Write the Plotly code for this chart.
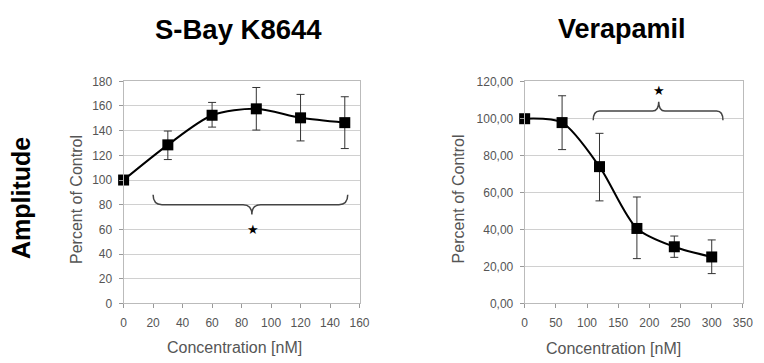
import plotly.graph_objects as go

# ---- data ----
sbay_conc = [0, 30, 60, 90, 120, 150]
sbay_mean = [100, 128.5, 152.5, 157.7, 150.4, 146.5]
sbay_upper = [100, 139.7, 162.9, 175.0, 169.4, 167.5]
sbay_lower = [100, 116.6, 142.9, 140.5, 131.7, 125.5]

vera_conc = [0, 60, 120, 180, 240, 300]
vera_mean = [99.8, 97.7, 73.9, 40.5, 30.6, 25.1]
vera_upper = [99.8, 112.2, 91.9, 57.5, 36.4, 34.3]
vera_lower = [99.8, 83.1, 55.4, 24.2, 24.9, 16.1]

left_xticks = list(range(0, 161, 20))
left_yticks = list(range(0, 181, 20))
right_xticks = list(range(0, 351, 50))
right_yticks = list(range(0, 121, 20))

W, H = 764, 363
FONT = "Liberation Sans, Arial, sans-serif"
GRAY = "#555555"

def px_x(p):
    return p / W

def px_y(p):
    return 1 - p / H

fig = go.Figure()

def add_series(x, m, up, lo, xa, ya):
    fig.add_trace(go.Scatter(
        x=x, y=m, xaxis=xa, yaxis=ya, mode="lines+markers",
        line=dict(color="black", width=2, shape="spline", smoothing=0.8),
        marker=dict(symbol="square", size=11, color="black"),
        error_y=dict(type="data", symmetric=False,
                     array=[u - v for u, v in zip(up, m)],
                     arrayminus=[v - l for v, l in zip(m, lo)],
                     color="#333333", thickness=1, width=4),
        showlegend=False, cliponaxis=False,
    ))

add_series(sbay_conc, sbay_mean, sbay_upper, sbay_lower, "x", "y")
add_series(vera_conc, vera_mean, vera_upper, vera_lower, "x2", "y2")

ydom = [px_y(308.3), px_y(77.3)]
axis_common = dict(
    showline=True, linecolor="#bbbbbb", linewidth=1, mirror=True,
    ticks="outside", ticklen=4, tickcolor="#999999",
    tickfont=dict(family=FONT, size=12, color=GRAY),
    ticklabelstandoff=4,
    zeroline=False,
)

fig.update_layout(
    width=W, height=H, margin=dict(l=0, r=0, t=0, b=0),
    paper_bgcolor="white", plot_bgcolor="white",
    separators=",.",
    xaxis=dict(domain=[px_x(122.7), px_x(362.7)], range=[0, 160],
               tickvals=left_xticks, showgrid=False, anchor="y",
               **axis_common),
    yaxis=dict(domain=ydom, range=[0, 180], tickvals=left_yticks,
               showgrid=True, gridcolor="#d0d0d0", anchor="x",
               **axis_common),
    xaxis2=dict(domain=[px_x(530.7), px_x(752.7)], range=[0, 350],
                tickvals=right_xticks, showgrid=False, anchor="y2",
                **axis_common),
    yaxis2=dict(domain=ydom, range=[0, 120], tickvals=right_yticks,
                tickformat=".2f",
                showgrid=True, gridcolor="#d0d0d0", anchor="x2",
                **axis_common),
)

# axis titles
def label(x, y, text, angle=0, size=16, color=GRAY, bold=False):
    fig.add_annotation(x=px_x(x), y=px_y(y), xref="paper", yref="paper",
                       xanchor="center", yanchor="middle", textangle=angle,
                       text=f"<b>{text}</b>" if bold else text, showarrow=False,
                       font=dict(family=FONT, size=size, color=color))

label(236, 354, "Concentration [nM]")
label(621, 355, "Concentration [nM]")
label(75, 200, "Percent of Control", angle=-90)
label(463, 200, "Percent of Control", angle=-90)

# braces (significance annotations)
fig.add_shape(type="path", xref="x", yref="y",
              path="M 20,88 Q 20,80 26,80 L 81,80 Q 87,80 87,72 Q 87,80 93,80 L 146,80 Q 152,80 152,88",
              line=dict(color="#444444", width=1.5))
fig.add_shape(type="path", xref="x2", yref="y2",
              path="M 110,99 Q 110,104 120,104 L 205,104 Q 215,104 215,109 Q 215,104 225,104 L 308,104 Q 318,104 318,99",
              line=dict(color="#444444", width=1.5))

fig.add_annotation(x=88, y=60, xref="x", yref="y", text="★", showarrow=False,
                   font=dict(family="DejaVu Sans", size=13, color="black"))
fig.add_annotation(x=216, y=115, xref="x2", yref="y2", text="★", showarrow=False,
                   font=dict(family="DejaVu Sans", size=13, color="black"))

# titles
label(240, 23, "S-Bay K8644", size=27.5, color="black", bold=True)
label(630, 23, "Verapamil", size=27, color="black", bold=True)
label(19, 199, "Amplitude", angle=-90, size=25, color="black", bold=True)

fig.write_html("out.html")
